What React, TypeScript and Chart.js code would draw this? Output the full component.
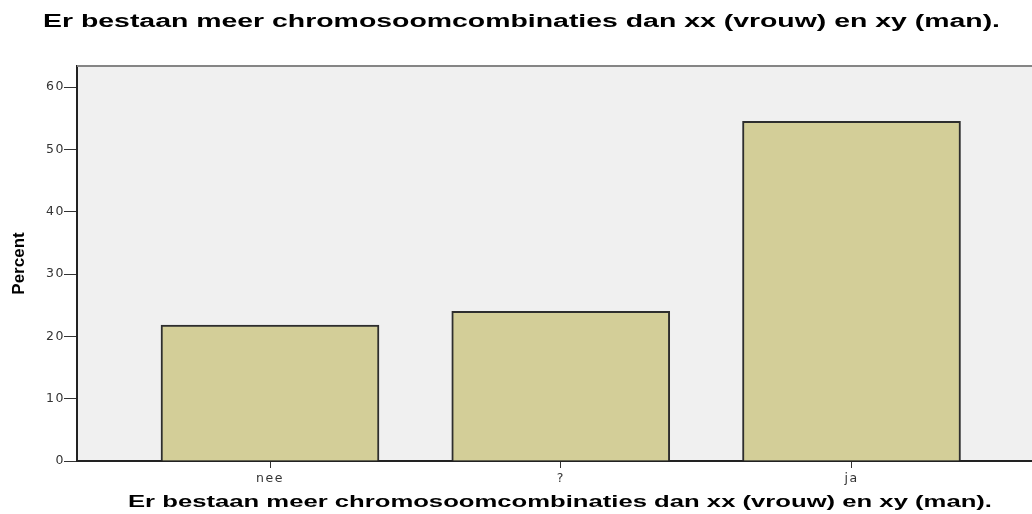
import React, { useEffect, useMemo, useRef } from "react";
import { Chart, registerables } from "chart.js";

Chart.register(...registerables);

const categories = ["nee", "?", "ja"];
const percentValues = [21.8, 24.0, 54.5];
const yTickValues = [0, 10, 20, 30, 40, 50, 60];
const chartTitle = "Er bestaan meer chromosoomcombinaties dan xx (vrouw) en xy (man).";
const xAxisTitle = "Er bestaan meer chromosoomcombinaties dan xx (vrouw) en xy (man).";
const yAxisTitle = "Percent";

const TOP_FONT = 'bold 18px "Liberation Sans"';
const BOTTOM_FONT = 'bold 16.8px "Liberation Sans"';

function fitScale(text: string, font: string, target: number): number {
  const c = document.createElement("canvas").getContext("2d");
  if (!c) return 1;
  c.font = font;
  const w = c.measureText(text).width;
  return w > 0 ? target / w : 1;
}

const framePlugin = {
  id: "frame",
  beforeDraw(chart: any) {
    const { ctx, chartArea } = chart;
    ctx.save();
    ctx.fillStyle = "#f0f0f0";
    ctx.fillRect(chartArea.left, chartArea.top, chartArea.right - chartArea.left, chartArea.bottom - chartArea.top);
    ctx.restore();
    ctx.letterSpacing = "0px";
  },
  afterDatasetsDraw(chart: any) {
    chart.ctx.letterSpacing = "1.5px";
  },
  afterDraw(chart: any) {
    const { ctx, chartArea } = chart;
    ctx.letterSpacing = "0px";
    ctx.save();
    ctx.strokeStyle = "#858585";
    ctx.lineWidth = 2;
    ctx.beginPath();
    ctx.moveTo(chartArea.left, chartArea.top);
    ctx.lineTo(chartArea.right, chartArea.top);
    ctx.stroke();
    ctx.restore();
  },
};

export default function App() {
  const ref = useRef<HTMLCanvasElement>(null);
  const topScale = useMemo(() => fitScale(chartTitle, TOP_FONT, 957), []);
  const bottomScale = useMemo(() => fitScale(xAxisTitle, BOTTOM_FONT, 864), []);

  useEffect(() => {
    if (!ref.current) return;
    const chart = new Chart(ref.current, {
      type: "bar",
      data: {
        datasets: [
          {
            data: percentValues.map((v, i) => ({ x: i, y: v })),
            backgroundColor: "#d3ce98",
            borderColor: "#2e2e2e",
            borderWidth: 2,
            barThickness: 218,
          },
        ],
      },
      options: {
        responsive: false,
        animation: false,
        devicePixelRatio: 1,
        layout: { padding: { top: 66, left: 0, right: 0, bottom: 0 } },
        plugins: {
          legend: { display: false },
          tooltip: { enabled: false },
          title: { display: false },
        },
        scales: {
          x: {
            type: "linear",
            min: -0.6638,
            max: 2.6208,
            offset: false,
            afterBuildTicks: (s: any) => {
              s.ticks = categories.map((_, i) => ({ value: i }));
            },
            afterFit: (s: any) => {
              s.height = 53;
            },
            grid: {
              offset: false,
              drawOnChartArea: false,
              drawTicks: true,
              tickLength: 7,
              color: "#333",
              tickColor: "#333",
              lineWidth: 1,
            },
            border: { display: true, color: "#222", width: 2 },
            ticks: {
              z: 1,
              callback: (v: any) => categories[v] ?? "",
              font: { family: '"DejaVu Sans"', size: 12.5 },
              color: "#333",
              padding: 3,
              maxRotation: 0,
              autoSkip: false,
            },
          },
          y: {
            min: 0,
            max: 63.37,
            afterBuildTicks: (s: any) => {
              s.ticks = yTickValues.map((v) => ({ value: v }));
            },
            afterFit: (s: any) => {
              s.width = 77;
            },
            grid: {
              drawOnChartArea: false,
              drawTicks: true,
              tickLength: 13,
              tickColor: "#333",
              lineWidth: 1,
            },
            border: { display: true, color: "#222", width: 2 },
            ticks: {
              z: 1,
              font: { family: '"DejaVu Sans"', size: 12.5 },
              color: "#333",
              padding: -1,
            },
            title: {
              display: true,
              text: yAxisTitle,
              font: { family: '"Liberation Sans"', size: 17, weight: "bold" },
              color: "#000",
              padding: { top: 9, bottom: 0 },
            },
          },
        },
      },
      plugins: [framePlugin],
    } as any);
    return () => chart.destroy();
  }, []);

  return (
    <div style={{ position: "fixed", left: 0, top: 0, width: 1032, height: 514, background: "#fff", overflow: "hidden" }}>
      <canvas ref={ref} width={1032} height={514} style={{ display: "block", width: 1032, height: 514 }} />
      <div
        style={{
          position: "absolute",
          left: 43,
          top: 12,
          font: TOP_FONT,
          lineHeight: 1,
          whiteSpace: "nowrap",
          color: "#000",
          transformOrigin: "0 0",
          transform: `scaleX(${topScale})`,
        }}
      >
        {chartTitle}
      </div>
      <div
        style={{
          position: "absolute",
          left: 128,
          top: 494,
          font: BOTTOM_FONT,
          lineHeight: 1,
          whiteSpace: "nowrap",
          color: "#000",
          transformOrigin: "0 0",
          transform: `scaleX(${bottomScale})`,
        }}
      >
        {xAxisTitle}
      </div>
    </div>
  );
}
